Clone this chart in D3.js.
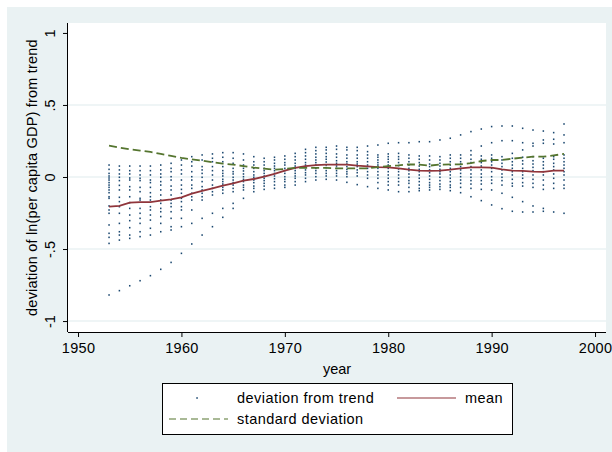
<!DOCTYPE html>
<html>
<head>
<meta charset="utf-8">
<script src="https://cdn.jsdelivr.net/npm/d3@7/dist/d3.min.js"></script>
<style>
  body { margin: 0; background: #fff; }
  svg text { font-family: "Liberation Sans", Arial, Helvetica, sans-serif; fill: #000; }
</style>
</head>
<body>
<svg id="chart" width="612" height="452"></svg>
<script>
// years on the x axis
const years = [1953, 1954, 1955, 1956, 1957, 1958, 1959, 1960, 1961, 1962,
  1963, 1964, 1965, 1966, 1967, 1968, 1969, 1970, 1971, 1972,
  1973, 1974, 1975, 1976, 1977, 1978, 1979, 1980, 1981, 1982,
  1983, 1984, 1985, 1986, 1987, 1988, 1989, 1990, 1991, 1992,
  1993, 1994, 1995, 1996, 1997];

// deviation from trend, one list of country values per year
const devByYear = [
  [0.083, 0.053, 0.025, 0.007, -0.007, -0.021, -0.039, -0.056, -0.072, -0.090, -0.109, -0.137, -0.148, -0.201, -0.229, -0.252, -0.333, -0.391, -0.419, -0.461, -0.819],
  [0.076, 0.049, 0.021, -0.002, -0.025, -0.058, -0.090, -0.141, -0.171, -0.206, -0.252, -0.322, -0.380, -0.403, -0.438, -0.789],
  [0.076, 0.044, 0.021, -0.007, -0.021, -0.067, -0.090, -0.137, -0.178, -0.218, -0.264, -0.303, -0.352, -0.403, -0.426, -0.755],
  [0.076, 0.044, 0.014, -0.009, -0.025, -0.072, -0.102, -0.148, -0.160, -0.218, -0.252, -0.287, -0.322, -0.380, -0.414, -0.720],
  [0.076, 0.044, 0.014, -0.021, -0.039, -0.072, -0.109, -0.137, -0.160, -0.206, -0.229, -0.264, -0.299, -0.356, -0.403, -0.685],
  [0.083, 0.049, 0.021, -0.002, -0.032, -0.056, -0.090, -0.125, -0.160, -0.183, -0.218, -0.241, -0.275, -0.322, -0.380, -0.641],
  [0.095, 0.060, 0.037, 0.002, -0.021, -0.063, -0.090, -0.125, -0.160, -0.183, -0.206, -0.241, -0.287, -0.345, -0.368, -0.593],
  [0.118, 0.083, 0.049, 0.021, -0.021, -0.056, -0.086, -0.113, -0.148, -0.171, -0.206, -0.229, -0.287, -0.345, -0.530],
  [0.141, 0.106, 0.076, 0.037, 0.002, -0.021, -0.056, -0.079, -0.113, -0.137, -0.160, -0.229, -0.322, -0.465],
  [0.153, 0.118, 0.072, 0.049, 0.025, -0.002, -0.032, -0.067, -0.090, -0.113, -0.137, -0.160, -0.287, -0.403],
  [0.160, 0.130, 0.106, 0.072, 0.044, 0.014, -0.021, -0.056, -0.079, -0.102, -0.125, -0.252, -0.345],
  [0.169, 0.137, 0.106, 0.072, 0.044, 0.025, 0.007, -0.016, -0.032, -0.049, -0.072, -0.090, -0.113, -0.218, -0.280],
  [0.169, 0.130, 0.095, 0.060, 0.037, 0.021, -0.002, -0.021, -0.039, -0.056, -0.079, -0.102, -0.183, -0.218],
  [0.160, 0.118, 0.083, 0.060, 0.042, 0.021, 0.002, -0.016, -0.032, -0.056, -0.072, -0.090, -0.148],
  [0.141, 0.106, 0.083, 0.060, 0.037, 0.014, -0.002, -0.021, -0.039, -0.063, -0.079, -0.102],
  [0.130, 0.106, 0.083, 0.060, 0.044, 0.025, 0.007, -0.009, -0.025, -0.044, -0.063, -0.086],
  [0.137, 0.118, 0.095, 0.076, 0.060, 0.044, 0.025, 0.007, -0.012, -0.032, -0.056, -0.079],
  [0.146, 0.123, 0.100, 0.083, 0.060, 0.044, 0.025, 0.002, -0.016, -0.032, -0.056, -0.072],
  [0.164, 0.141, 0.118, 0.095, 0.076, 0.060, 0.044, 0.025, 0.007, -0.009, -0.032, -0.056],
  [0.192, 0.169, 0.146, 0.123, 0.100, 0.083, 0.067, 0.049, 0.030, 0.014, -0.009, -0.032],
  [0.206, 0.183, 0.160, 0.137, 0.118, 0.100, 0.083, 0.060, 0.044, 0.025, 0.002, -0.021],
  [0.206, 0.188, 0.164, 0.141, 0.123, 0.104, 0.083, 0.065, 0.044, 0.025, 0.007, -0.016],
  [0.215, 0.192, 0.160, 0.137, 0.113, 0.095, 0.076, 0.060, 0.044, 0.025, 0.007, -0.021],
  [0.206, 0.188, 0.153, 0.130, 0.106, 0.090, 0.072, 0.053, 0.037, 0.021, 0.002, -0.037],
  [0.206, 0.183, 0.153, 0.130, 0.106, 0.090, 0.072, 0.049, 0.030, 0.007, -0.053],
  [0.215, 0.176, 0.153, 0.130, 0.106, 0.083, 0.060, 0.037, 0.014, -0.009, -0.067],
  [0.222, 0.153, 0.137, 0.118, 0.100, 0.083, 0.060, 0.037, 0.014, -0.009, -0.039, -0.079],
  [0.234, 0.160, 0.141, 0.123, 0.104, 0.083, 0.060, 0.037, 0.014, -0.009, -0.032, -0.056, -0.090],
  [0.238, 0.164, 0.141, 0.123, 0.100, 0.079, 0.056, 0.037, 0.014, -0.009, -0.032, -0.056, -0.102],
  [0.238, 0.153, 0.130, 0.106, 0.083, 0.060, 0.044, 0.021, -0.002, -0.025, -0.044, -0.072, -0.102],
  [0.245, 0.146, 0.123, 0.100, 0.076, 0.053, 0.037, 0.014, -0.009, -0.032, -0.056, -0.079, -0.095],
  [0.245, 0.146, 0.118, 0.090, 0.072, 0.049, 0.030, 0.007, -0.016, -0.039, -0.056, -0.072, -0.090],
  [0.257, 0.141, 0.118, 0.095, 0.076, 0.053, 0.037, 0.021, -0.002, -0.025, -0.049, -0.067, -0.086],
  [0.269, 0.153, 0.130, 0.106, 0.083, 0.060, 0.037, 0.014, -0.009, -0.032, -0.056, -0.072, -0.095],
  [0.292, 0.153, 0.130, 0.106, 0.090, 0.072, 0.049, 0.025, 0.002, -0.021, -0.044, -0.072, -0.109],
  [0.315, 0.183, 0.153, 0.123, 0.100, 0.072, 0.049, 0.021, -0.002, -0.025, -0.049, -0.079, -0.137],
  [0.333, 0.215, 0.146, 0.123, 0.100, 0.076, 0.049, 0.021, -0.002, -0.025, -0.049, -0.086, -0.164],
  [0.350, 0.238, 0.153, 0.130, 0.106, 0.083, 0.060, 0.037, 0.002, -0.021, -0.044, -0.090, -0.194],
  [0.354, 0.252, 0.141, 0.118, 0.095, 0.072, 0.049, 0.021, -0.002, -0.025, -0.056, -0.113, -0.220],
  [0.354, 0.252, 0.164, 0.130, 0.106, 0.083, 0.060, 0.037, 0.014, -0.016, -0.044, -0.063, -0.141, -0.238],
  [0.338, 0.238, 0.188, 0.137, 0.113, 0.090, 0.060, 0.037, 0.014, -0.009, -0.039, -0.063, -0.171, -0.243],
  [0.326, 0.234, 0.215, 0.141, 0.113, 0.090, 0.067, 0.044, 0.014, -0.016, -0.044, -0.072, -0.201, -0.243],
  [0.319, 0.257, 0.234, 0.130, 0.106, 0.083, 0.060, 0.037, 0.014, -0.021, -0.056, -0.086, -0.218, -0.238],
  [0.308, 0.262, 0.229, 0.141, 0.123, 0.095, 0.072, 0.049, 0.021, -0.009, -0.044, -0.079, -0.243],
  [0.368, 0.292, 0.238, 0.153, 0.130, 0.106, 0.083, 0.060, 0.037, 0.014, -0.021, -0.056, -0.079, -0.252]
];

// cross-country mean and standard deviation per year
const meanDev = [-0.206, -0.201, -0.178, -0.174, -0.174, -0.164, -0.155, -0.141, -0.116, -0.097,
  -0.079, -0.060, -0.044, -0.025, -0.014, 0.002, 0.021, 0.044, 0.063, 0.076,
  0.083, 0.086, 0.086, 0.086, 0.079, 0.074, 0.069, 0.067, 0.060, 0.051,
  0.044, 0.042, 0.044, 0.051, 0.060, 0.067, 0.067, 0.065, 0.053, 0.044,
  0.042, 0.037, 0.035, 0.044, 0.044];
const sdDev = [0.218, 0.204, 0.192, 0.183, 0.174, 0.160, 0.146, 0.132, 0.123, 0.113,
  0.102, 0.093, 0.086, 0.076, 0.065, 0.058, 0.051, 0.056, 0.063, 0.063,
  0.063, 0.063, 0.060, 0.060, 0.060, 0.060, 0.069, 0.076, 0.081, 0.088,
  0.086, 0.079, 0.086, 0.088, 0.088, 0.097, 0.111, 0.118, 0.118, 0.127,
  0.134, 0.141, 0.141, 0.150, 0.160];

// axis ticks
const xTicks = [1950, 1960, 1970, 1980, 1990, 2000];
const yTicks = [-1, -0.5, 0, 0.5, 1];
const yTickLabels = ["-1", "-.5", "0", ".5", "1"];
const gridTicks = [-1, -0.5, 0, 0.5];

const NAVY = "#1a476f", MAROON = "#90353b", GREEN = "#55752f";
const FS = "14.5px";

const svg = d3.select("#chart");

// outer graph region
svg.append("rect").attr("x", 7).attr("y", 7).attr("width", 605).attr("height", 445)
  .attr("fill", "#eaf2f3");

const plot = { left: 68, right: 606, top: 23, bottom: 332 };
svg.append("rect")
  .attr("x", plot.left).attr("y", plot.top)
  .attr("width", plot.right - plot.left).attr("height", plot.bottom - plot.top)
  .attr("fill", "#fff");

const x = d3.scaleLinear().domain([1949.03, 2001.06]).range([plot.left, plot.right]);
const y = d3.scaleLinear().domain([-1.076, 1.069]).range([plot.bottom, plot.top]);

// gridlines
svg.append("g").selectAll("line").data(gridTicks).join("line")
  .attr("x1", plot.left).attr("x2", plot.right)
  .attr("y1", d => y(d)).attr("y2", d => y(d))
  .attr("stroke", "#eaf2f3").attr("stroke-width", 1.5);

// scatter of deviations
const pts = [];
years.forEach((yr, i) => devByYear[i].forEach(v => pts.push([yr, v])));
svg.append("g").selectAll("rect").data(pts).join("rect")
  .attr("x", d => x(d[0]) - 0.75).attr("y", d => y(d[1]) - 0.8)
  .attr("width", 1.5).attr("height", 1.6)
  .attr("fill", NAVY);

// mean and standard deviation lines
const line = d3.line().x((d, i) => x(years[i])).y(d => y(d));
svg.append("path").datum(meanDev).attr("d", line)
  .attr("fill", "none").attr("stroke", MAROON).attr("stroke-width", 1.8);
svg.append("path").datum(sdDev).attr("d", line)
  .attr("fill", "none").attr("stroke", GREEN).attr("stroke-width", 1.8)
  .attr("stroke-dasharray", "8,4");

// axes
const xAxis = d3.axisBottom(x).tickValues(xTicks).tickSize(5).tickPadding(5).tickFormat(d3.format("d"));
const gx = svg.append("g").attr("transform", `translate(0,${plot.bottom})`).call(xAxis);
gx.select(".domain").attr("d", `M${plot.left},0.5H${plot.right}`).attr("stroke", "#000");
gx.selectAll(".tick line").attr("stroke", "#000");
gx.selectAll(".tick text").attr("font-size", FS).attr("font-family", null).attr("dy", "0.75em")
  .attr("letter-spacing", "0.3px");

const yAxis = d3.axisLeft(y).tickValues(yTicks).tickSize(5).tickFormat((d, i) => yTickLabels[i]);
const gy = svg.append("g").attr("transform", `translate(${plot.left},0)`).call(yAxis);
gy.select(".domain").attr("d", `M-0.5,${plot.top}V${plot.bottom}`).attr("stroke", "#000");
gy.selectAll(".tick line").attr("stroke", "#000");
gy.selectAll(".tick text")
  .attr("font-size", FS).attr("font-family", null)
  .attr("x", null).attr("dy", null)
  .attr("text-anchor", "middle")
  .attr("transform", "translate(-13,0) rotate(-90)");

// axis titles
svg.append("text").attr("x", (plot.left + plot.right) / 2).attr("y", 374)
  .attr("text-anchor", "middle").attr("font-size", FS).text("year");
svg.append("text")
  .attr("transform", `translate(37,${(plot.top + plot.bottom) / 2}) rotate(-90)`)
  .attr("text-anchor", "middle").attr("font-size", FS).attr("letter-spacing", "0.2px")
  .text("deviation of ln(per capita GDP) from trend");

// legend
const lg = svg.append("g");
lg.append("rect").attr("x", 162.5).attr("y", 383.5).attr("width", 350).attr("height", 51)
  .attr("fill", "#fff").attr("stroke", "#000").attr("stroke-width", 1);
lg.append("rect").attr("x", 196.3).attr("y", 397.2).attr("width", 1.5).attr("height", 1.6).attr("fill", NAVY);
lg.append("text").attr("x", 237).attr("y", 403).attr("font-size", FS).attr("letter-spacing", "0.45px")
  .text("deviation from trend");
lg.append("line").attr("x1", 397).attr("x2", 456).attr("y1", 398).attr("y2", 398)
  .attr("stroke", MAROON).attr("stroke-width", 1.2);
lg.append("text").attr("x", 465).attr("y", 403).attr("font-size", FS).attr("letter-spacing", "0.45px")
  .text("mean");
lg.append("line").attr("x1", 169).attr("x2", 228).attr("y1", 419).attr("y2", 419)
  .attr("stroke", GREEN).attr("stroke-width", 1.2).attr("stroke-dasharray", "7,4");
lg.append("text").attr("x", 237).attr("y", 424).attr("font-size", FS).attr("letter-spacing", "0.45px")
  .text("standard deviation");
</script>
</body>
</html>
